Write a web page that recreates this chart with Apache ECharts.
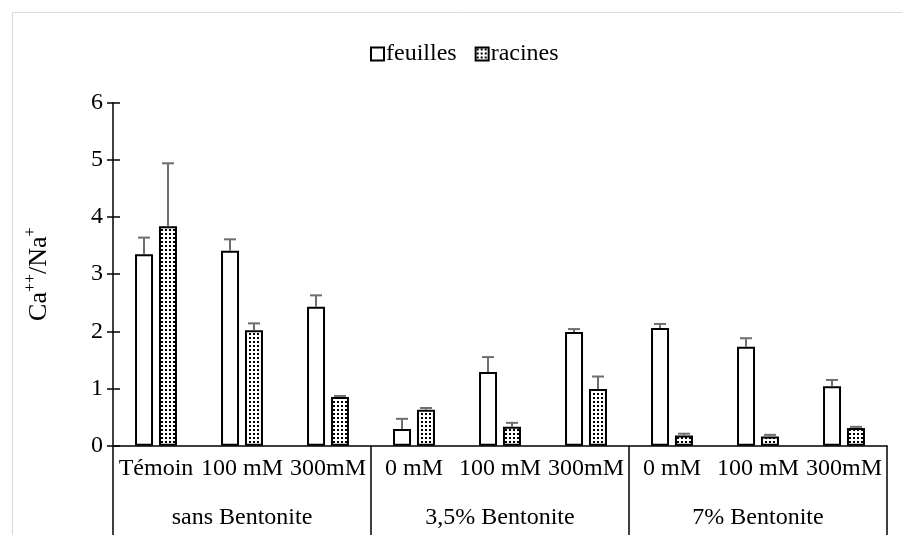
<!DOCTYPE html>
<html>
<head>
<meta charset="utf-8">
<script src="https://cdn.jsdelivr.net/npm/echarts@6/dist/echarts.min.js"></script>
<style>
  html, body { margin: 0; padding: 0; background: #fff; }
  #chart { width: 902px; height: 535px; }
</style>
</head>
<body>
<div id="chart"></div>
<script>
// Treatments (first level) and soil groups (second level) of the category axis
const categories = ['Témoin', '100 mM', '300mM', '0 mM', '100 mM', '300mM', '0 mM', '100 mM', '300mM'];
const groups = ['sans Bentonite', '3,5% Bentonite', '7% Bentonite'];
const seriesNames = ['feuilles', 'racines'];

// Ca++/Na+ ratio and its standard error for leaves and roots
const feuilles = [3.35, 3.41, 2.43, 0.29, 1.29, 1.99, 2.06, 1.73, 1.04];
const feuillesErr = [0.29, 0.20, 0.20, 0.18, 0.26, 0.05, 0.07, 0.15, 0.11];
const racines = [3.84, 2.02, 0.85, 0.63, 0.33, 0.99, 0.18, 0.16, 0.31];
const racinesErr = [1.10, 0.12, 0.02, 0.03, 0.07, 0.22, 0.03, 0.03, 0.02];

const yTicks = [0, 1, 2, 3, 4, 5, 6];

const serif = '"Liberation Serif", "Times New Roman", serif';
const FS = 24;

// Dotted fill used for the root bars
function dotPattern() {
  const c = document.createElement('canvas');
  c.width = 4; c.height = 4;
  const ctx = c.getContext('2d');
  ctx.fillStyle = '#ffffff';
  ctx.fillRect(0, 0, 4, 4);
  ctx.fillStyle = '#000000';
  ctx.fillRect(1, 1, 2, 2);
  return { image: c, repeat: 'repeat' };
}

const BAR_W = 18;
const BAR_OFFSET = 12; // half the centre-to-centre distance of the two bars

function errorSeries(values, errs, side) {
  return {
    type: 'custom',
    silent: true,
    z: 5,
    data: values.map((v, i) => [i, v, errs[i]]),
    encode: { x: 0, y: 1 },
    renderItem: function (params, api) {
      const x = api.coord([api.value(0), 0])[0] + side * BAR_OFFSET;
      const yBase = api.coord([api.value(0), api.value(1)])[1];
      const yTop = api.coord([api.value(0), api.value(1) + api.value(2)])[1];
      const st = { stroke: '#6e6e6e', lineWidth: 2 };
      return {
        type: 'group',
        children: [
          { type: 'line', shape: { x1: x, y1: yBase, x2: x, y2: yTop }, style: st },
          { type: 'line', shape: { x1: x - 6, y1: yTop, x2: x + 6, y2: yTop }, style: st }
        ]
      };
    }
  };
}

const chart = echarts.init(document.getElementById('chart'), null, { renderer: 'canvas' });

const yMin = yTicks[0], yMax = yTicks[yTicks.length - 1];

chart.setOption({
  backgroundColor: '#ffffff',
  animation: false,
  graphic: [{
    type: 'rect',
    silent: true,
    shape: { x: 12.5, y: 12.5, width: 900, height: 540 },
    style: { fill: 'none', stroke: '#d9d9d9', lineWidth: 1 }
  }],
  legend: {
    data: seriesNames,
    top: 37,
    left: 365,
    icon: 'rect',
    itemWidth: 13,
    itemHeight: 13,
    itemGap: 18,
    textStyle: { fontFamily: serif, fontSize: FS, color: '#000', padding: [0, 0, 0, -3] }
  },
  grid: { left: 113, right: 15, top: 102.7, bottom: 89.3 },
  xAxis: [
    {
      type: 'category',
      data: categories,
      axisLine: { show: true, lineStyle: { color: '#000', width: 1.5 } },
      axisTick: { show: false },
      axisLabel: { fontFamily: serif, fontSize: FS, color: '#000', margin: 11, interval: 0 }
    },
    {
      type: 'category',
      data: groups,
      position: 'bottom',
      axisLine: { show: false },
      axisTick: { show: true, length: 95, lineStyle: { color: '#000', width: 1.5 } },
      axisLabel: { fontFamily: serif, fontSize: FS, color: '#000', margin: 60, interval: 0 }
    }
  ],
  yAxis: [
    {
      type: 'value',
      min: yMin, max: yMax, interval: 1,
      axisLine: { show: true, lineStyle: { color: '#000', width: 1.5 } },
      axisTick: { show: true, length: 6, lineStyle: { color: '#000', width: 1.5 } },
      axisLabel: { fontFamily: serif, fontSize: FS, color: '#000', margin: 10 },
      splitLine: { show: false },
      name: '{b|Ca}{s|++}{b|/Na}{s|+}',
      nameLocation: 'middle',
      nameGap: 61,
      nameRotate: 90,
      nameTextStyle: {
        fontFamily: serif,
        color: '#000',
        rich: {
          b: { fontFamily: serif, fontSize: 26, color: '#000', lineHeight: 29, verticalAlign: 'bottom' },
          s: { fontFamily: serif, fontSize: 16, color: '#000', lineHeight: 16, verticalAlign: 'top' }
        }
      }
    },
    {
      type: 'value',
      min: yMin, max: yMax, interval: 1,
      position: 'left',
      axisLine: { show: false },
      axisTick: { show: true, inside: true, length: 7, lineStyle: { color: '#000', width: 1.5 } },
      axisLabel: { show: false },
      splitLine: { show: false }
    }
  ],
  series: [
    {
      name: seriesNames[0],
      type: 'bar',
      data: feuilles,
      barWidth: BAR_W,
      barGap: '33%',
      itemStyle: { color: '#ffffff', borderColor: '#000', borderWidth: 2 }
    },
    {
      name: seriesNames[1],
      type: 'bar',
      data: racines,
      barWidth: BAR_W,
      barGap: '33%',
      itemStyle: { color: dotPattern(), borderColor: '#000', borderWidth: 2 }
    },
    errorSeries(feuilles, feuillesErr, -1),
    errorSeries(racines, racinesErr, 1)
  ]
});
</script>
</body>
</html>
